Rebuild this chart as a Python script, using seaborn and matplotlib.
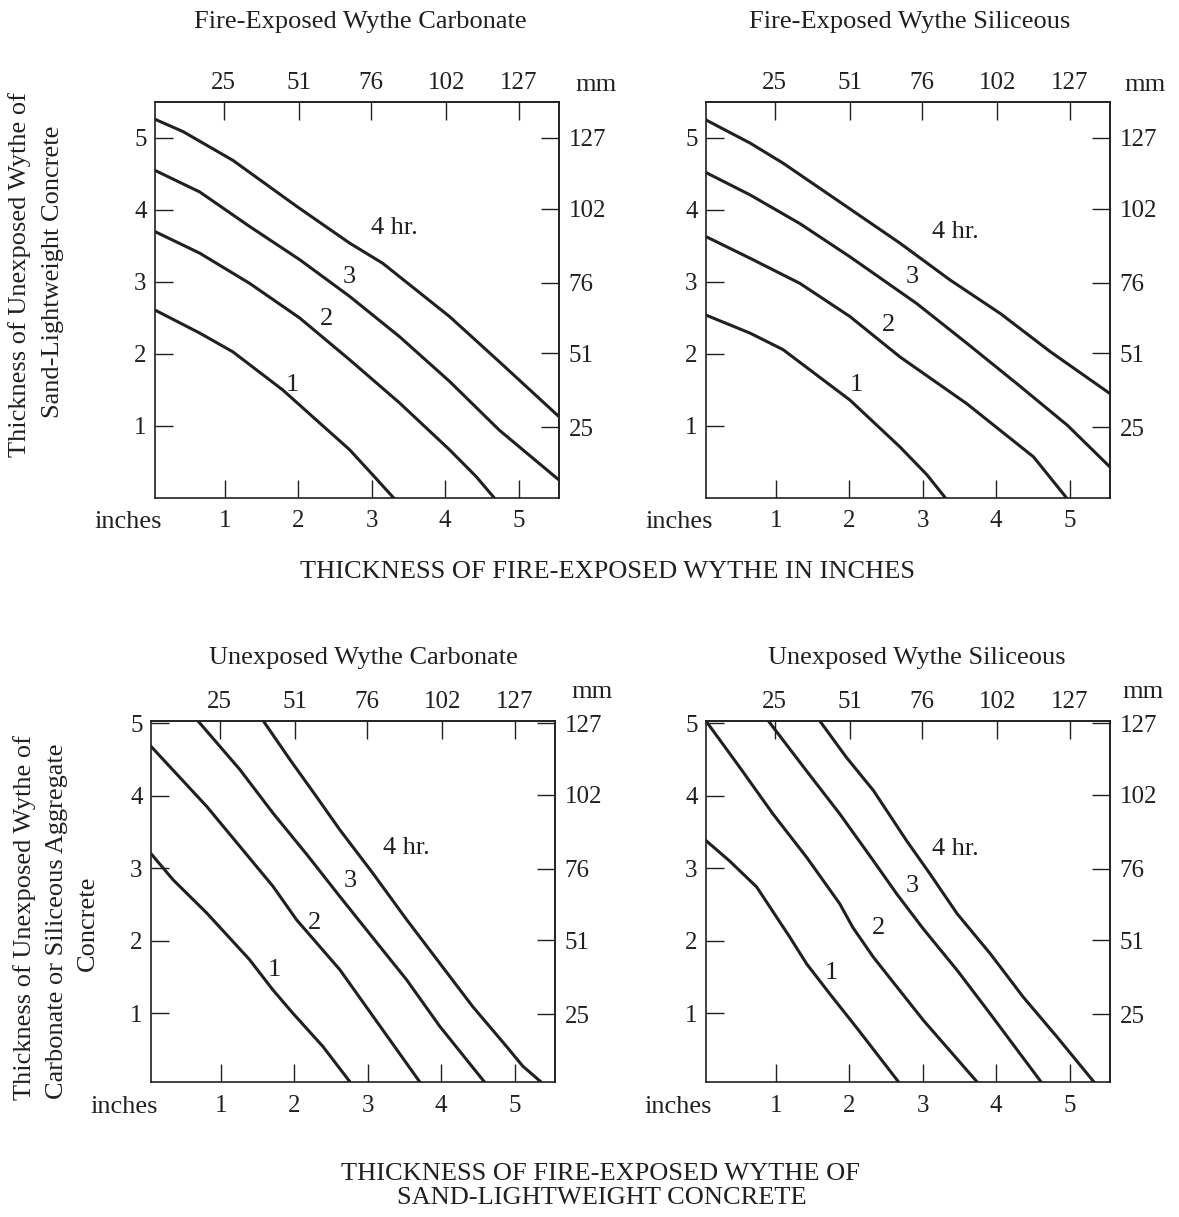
import numpy as np
import pandas as pd
import matplotlib
matplotlib.use('Agg')
import matplotlib.pyplot as plt
import seaborn as sns

sns.set_style('ticks')
plt.rcParams['font.family'] = ['Liberation Serif', 'DejaVu Serif']
plt.rcParams['font.size'] = 19
plt.rcParams['axes.linewidth'] = 1.2

INK = '#231f20'

# tick values
inch_ticks = [1, 2, 3, 4, 5]
mm_ticks = [25, 51, 76, 102, 127]

# Fire-exposed wythe carbonate (top left)
fc_4_x = [0.05, 0.43, 1.11, 1.98, 2.70, 3.15, 4.06, 4.74, 5.55]
fc_4_y = [5.26, 5.09, 4.69, 4.05, 3.54, 3.26, 2.52, 1.89, 1.13]
fc_3_x = [0.05, 0.66, 1.34, 2.02, 2.70, 3.38, 4.06, 4.74, 5.55]
fc_3_y = [4.55, 4.25, 3.77, 3.31, 2.80, 2.24, 1.62, 0.94, 0.25]
fc_2_x = [0.05, 0.66, 1.34, 2.02, 2.70, 3.38, 4.06, 4.42, 4.67]
fc_2_y = [3.70, 3.40, 2.98, 2.50, 1.92, 1.32, 0.67, 0.30, 0.0]
fc_1_x = [0.05, 0.66, 1.11, 1.79, 2.25, 2.70, 3.06, 3.30]
fc_1_y = [2.61, 2.29, 2.03, 1.50, 1.08, 0.67, 0.27, 0.0]

# Fire-exposed wythe siliceous (top right)
fs_4_x = [0.05, 0.65, 1.10, 1.96, 2.69, 3.37, 4.06, 4.74, 5.55]
fs_4_y = [5.25, 4.93, 4.65, 4.05, 3.54, 3.03, 2.56, 2.03, 1.45]
fs_3_x = [0.05, 0.65, 1.33, 2.01, 2.92, 3.60, 4.28, 4.97, 5.55]
fs_3_y = [4.52, 4.21, 3.81, 3.35, 2.70, 2.15, 1.59, 1.01, 0.43]
fs_2_x = [0.05, 0.65, 1.33, 2.01, 2.69, 3.60, 4.51, 4.96]
fs_2_y = [3.63, 3.33, 2.98, 2.52, 1.96, 1.31, 0.57, 0.0]
fs_1_x = [0.05, 0.65, 1.10, 2.01, 2.69, 3.06, 3.31]
fs_1_y = [2.54, 2.29, 2.06, 1.36, 0.71, 0.32, 0.0]

# Unexposed wythe carbonate (bottom left)
uc_4_x = [1.58, 1.94, 2.30, 2.62, 3.07, 3.53, 3.98, 4.43, 4.89, 5.11, 5.36]
uc_4_y = [5.03, 4.50, 3.99, 3.53, 2.93, 2.29, 1.69, 1.09, 0.54, 0.27, 0.05]
uc_3_x = [0.69, 1.26, 1.71, 2.17, 2.62, 3.07, 3.53, 3.98, 4.59]
uc_3_y = [5.03, 4.36, 3.76, 3.19, 2.61, 2.04, 1.46, 0.82, 0.05]
uc_2_x = [0.05, 0.81, 1.26, 1.71, 2.03, 2.62, 3.07, 3.71]
uc_2_y = [4.68, 3.85, 3.30, 2.75, 2.29, 1.60, 0.96, 0.05]
uc_1_x = [0.05, 0.35, 0.81, 1.39, 1.71, 1.98, 2.39, 2.76]
uc_1_y = [3.20, 2.84, 2.38, 1.74, 1.32, 1.00, 0.54, 0.05]

# Unexposed wythe siliceous (bottom right)
us_4_x = [1.60, 1.96, 2.33, 2.78, 3.10, 3.47, 3.92, 4.37, 4.83, 5.34]
us_4_y = [5.03, 4.53, 4.07, 3.38, 2.92, 2.37, 1.82, 1.22, 0.67, 0.04]
us_3_x = [0.90, 1.42, 1.87, 2.33, 2.65, 3.01, 3.47, 3.92, 4.62]
us_3_y = [5.03, 4.34, 3.75, 3.10, 2.64, 2.16, 1.59, 0.99, 0.04]
us_2_x = [0.05, 0.51, 0.96, 1.42, 1.87, 2.05, 2.33, 3.01, 3.75]
us_2_y = [5.03, 4.39, 3.75, 3.15, 2.51, 2.18, 1.77, 0.90, 0.04]
us_1_x = [0.05, 0.37, 0.74, 1.19, 1.42, 1.74, 2.10, 2.68]
us_1_y = [3.38, 3.10, 2.74, 2.05, 1.68, 1.26, 0.80, 0.04]

hour_labels = ['1', '2', '3', '4 hr.']
fc_label_x = [1.92, 2.38, 2.70, 3.31]
fc_label_y = [1.57, 2.48, 3.07, 3.75]
fs_label_x = [2.09, 2.53, 2.86, 3.44]
fs_label_y = [1.57, 2.40, 3.07, 3.70]
uc_label_x = [1.73, 2.28, 2.76, 3.53]
uc_label_y = [1.60, 2.24, 2.82, 3.28]
us_label_x = [1.75, 2.40, 2.86, 3.44]
us_label_y = [1.55, 2.18, 2.76, 3.26]


def to_mm(v):
    return v * 25.4


def to_in(v):
    return v / 25.4


def draw_panel(ax, curves, lab_x, lab_y, ylim):
    frames = []
    for i, (cx, cy) in enumerate(curves):
        frames.append(pd.DataFrame({'x': cx, 'y': cy, 'rating': hour_labels[i]}))
    df = pd.concat(frames)
    sns.lineplot(data=df, x='x', y='y', units='rating', estimator=None,
                 color=INK, lw=2.2, ax=ax, legend=False)
    ax.set_xlim(0.05, 5.55)
    ax.set_ylim(*ylim)
    ax.set_xticks(inch_ticks)
    ax.set_yticks(inch_ticks)
    ax.set_xlabel('')
    ax.set_ylabel('')
    ax.tick_params(axis='x', direction='in', length=13, width=1, pad=9,
                   colors=INK, labelsize=18)
    ax.tick_params(axis='y', direction='in', length=13, width=1, pad=6,
                   colors=INK, labelsize=18)
    secx = ax.secondary_xaxis('top', functions=(to_mm, to_in))
    secx.set_xticks(mm_ticks)
    secx.tick_params(direction='in', length=13, width=1, pad=6,
                     colors=INK, labelsize=18)
    secy = ax.secondary_yaxis('right', functions=(to_mm, to_in))
    secy.set_yticks(mm_ticks)
    secy.tick_params(direction='in', length=13, width=1, pad=7,
                     colors=INK, labelsize=18)
    for sp in ax.spines.values():
        sp.set_color(INK)
    for t, lx, ly in zip(hour_labels, lab_x, lab_y):
        ax.text(lx, ly, t, ha='center', va='center', fontsize=19, color=INK)


W, H = 1179, 1217
fig = plt.figure(figsize=(W / 100, H / 100), dpi=100)


def fx(px):
    return px / W


def fy(py):
    return 1 - py / H


ax_tl = fig.add_axes([fx(155), fy(498), fx(404), 396 / H])
ax_tr = fig.add_axes([fx(706), fy(498), fx(404), 396 / H])
ax_bl = fig.add_axes([fx(151), fy(1082), fx(404), 361 / H])
ax_br = fig.add_axes([fx(706), fy(1082), fx(404), 361 / H])

draw_panel(ax_tl, [(fc_1_x, fc_1_y), (fc_2_x, fc_2_y), (fc_3_x, fc_3_y), (fc_4_x, fc_4_y)],
           fc_label_x, fc_label_y, (0, 5.5))
draw_panel(ax_tr, [(fs_1_x, fs_1_y), (fs_2_x, fs_2_y), (fs_3_x, fs_3_y), (fs_4_x, fs_4_y)],
           fs_label_x, fs_label_y, (0, 5.5))
draw_panel(ax_bl, [(uc_1_x, uc_1_y), (uc_2_x, uc_2_y), (uc_3_x, uc_3_y), (uc_4_x, uc_4_y)],
           uc_label_x, uc_label_y, (0.05, 5.03))
draw_panel(ax_br, [(us_1_x, us_1_y), (us_2_x, us_2_y), (us_3_x, us_3_y), (us_4_x, us_4_y)],
           us_label_x, us_label_y, (0.05, 5.03))

kw = dict(ha='center', va='center', fontsize=19, color=INK)

# panel titles
fig.text(fx(360), fy(22), 'Fire-Exposed Wythe Carbonate', **kw)
fig.text(fx(910), fy(22), 'Fire-Exposed Wythe Siliceous', **kw)
fig.text(fx(363), fy(658), 'Unexposed Wythe Carbonate', **kw)
fig.text(fx(917), fy(658), 'Unexposed Wythe Siliceous', **kw)

# unit marks
fig.text(fx(596), fy(85), 'mm', **kw)
fig.text(fx(1145), fy(85), 'mm', **kw)
fig.text(fx(592), fy(692), 'mm', **kw)
fig.text(fx(1143), fy(692), 'mm', **kw)
fig.text(fx(128), fy(522), 'inches', **kw)
fig.text(fx(679), fy(522), 'inches', **kw)
fig.text(fx(124), fy(1107), 'inches', **kw)
fig.text(fx(678), fy(1107), 'inches', **kw)

# axis titles
fig.text(fx(20), fy(275), 'Thickness of Unexposed Wythe of', rotation=90, **kw)
fig.text(fx(53), fy(272), 'Sand-Lightweight Concrete', rotation=90, **kw)
fig.text(fx(608), fy(572), 'THICKNESS OF FIRE-EXPOSED WYTHE IN INCHES', **kw)

fig.text(fx(25), fy(918), 'Thickness of Unexposed Wythe of', rotation=90, **kw)
fig.text(fx(57), fy(921), 'Carbonate or Siliceous Aggregate', rotation=90, **kw)
fig.text(fx(88), fy(923), 'Concrete', rotation=90, **kw)
fig.text(fx(601), fy(1174), 'THICKNESS OF FIRE-EXPOSED WYTHE OF', **kw)
fig.text(fx(602), fy(1198), 'SAND-LIGHTWEIGHT CONCRETE', **kw)

fig.savefig('out.png', dpi=100, facecolor='white')
